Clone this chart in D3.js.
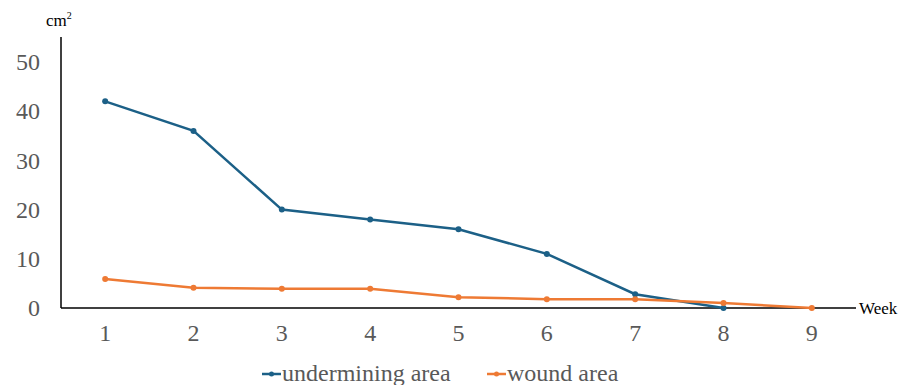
<!DOCTYPE html>
<html><head><meta charset="utf-8">
<script src="https://cdn.jsdelivr.net/npm/d3@7"></script>
<style>body{margin:0;background:#fff}svg{display:block}</style>
</head><body>
<svg id="c" width="904" height="385"></svg>
<script>
const weeks = ["1","2","3","4","5","6","7","8","9"];
const underminingWeeks = ["1","2","3","4","5","6","7","8"];
const undermining = [42, 36, 20, 18, 16, 11, 2.8, 0];
const wound = [5.9, 4.1, 3.9, 3.9, 2.2, 1.8, 1.8, 1.0, 0];
const yTicks = [0, 10, 20, 30, 40, 50];
const seriesNames = ["undermining area", "wound area"];
const colors = ["#1c6087", "#ee7a34"];

const svg = d3.select("#c");
const x = d3.scaleBand().domain(weeks).range([61, 856]);
const cx = d => x(d) + x.bandwidth() / 2;
const y = d3.scaleLinear().domain([0, 50]).range([308, 62]);
const font = "'Liberation Serif','Times New Roman',serif";

// y axis
const ya = svg.append("g").attr("transform", "translate(61,0)")
  .call(d3.axisLeft(y).tickValues(yTicks).tickSize(0).tickPadding(21));
ya.select(".domain").remove();
ya.selectAll("text").attr("font-family", font).attr("font-size", 24).attr("fill", "#595959");
svg.append("line").attr("x1", 61).attr("x2", 61).attr("y1", 37).attr("y2", 308).attr("stroke", "#000").attr("stroke-width", 1.5);

// x axis
const xa = svg.append("g").attr("transform", "translate(0,308)")
  .call(d3.axisBottom(x).tickSize(0).tickPadding(16));
xa.select(".domain").remove();
xa.selectAll("text").attr("font-family", font).attr("font-size", 24).attr("fill", "#595959");
svg.append("line").attr("x1", 61).attr("x2", 856).attr("y1", 308).attr("y2", 308).attr("stroke", "#000").attr("stroke-width", 1.5);

svg.append("text").attr("x", 859).attr("y", 314).attr("font-family", font).attr("font-size", 17).attr("fill", "#000").text("Week");
const cm = svg.append("text").attr("x", 46).attr("y", 26).attr("font-family", font).attr("font-size", 17).attr("fill", "#000");
cm.append("tspan").text("cm");
cm.append("tspan").attr("font-size", 10).attr("dy", -7).text("2");

const line = d3.line().x(d => cx(d[0])).y(d => y(d[1]));
const data = [
  underminingWeeks.map((w, i) => [w, undermining[i]]),
  weeks.map((w, i) => [w, wound[i]])
];
data.forEach((s, k) => {
  svg.append("path").datum(s).attr("d", line).attr("fill", "none").attr("stroke", colors[k]).attr("stroke-width", 2.5);
  svg.selectAll(null).data(s).enter().append("circle")
    .attr("cx", d => cx(d[0])).attr("cy", d => y(d[1])).attr("r", 3).attr("fill", colors[k]);
});

// legend
const leg = [{x: 262, t: seriesNames[0], c: colors[0]}, {x: 487, t: seriesNames[1], c: colors[1]}];
leg.forEach(l => {
  svg.append("line").attr("x1", l.x).attr("x2", l.x + 19).attr("y1", 374).attr("y2", 374).attr("stroke", l.c).attr("stroke-width", 2.5);
  svg.append("circle").attr("cx", l.x + 9.5).attr("cy", 374).attr("r", 2.5).attr("fill", l.c);
  svg.append("text").attr("x", l.x + 20).attr("y", 381).attr("font-family", font).attr("font-size", 24).attr("fill", "#595959").text(l.t);
});
</script>
</body></html>
